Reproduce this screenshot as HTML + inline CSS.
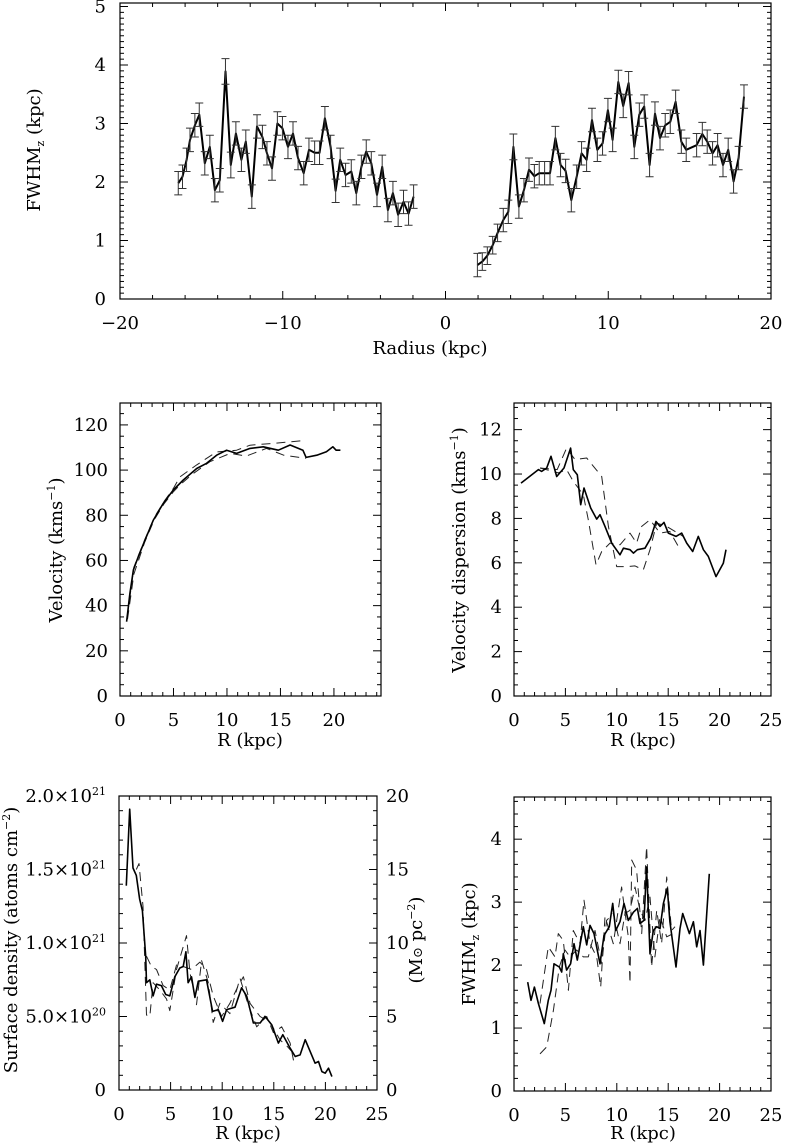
<!DOCTYPE html>
<html><head><meta charset="utf-8"><style>
html,body{margin:0;padding:0;background:#fff}
svg{display:block}
text{font-family:"DejaVu Serif","Liberation Serif",serif;fill:#000}
</style></head><body>
<svg id="fig" width="785" height="1148" viewBox="0 0 785 1148" xmlns="http://www.w3.org/2000/svg"></svg>
<script>
// ---- Top panel data (FWHM vs radius, with error bars)
const topR = [-16.42,-16.16,-15.91,-15.70,-15.40,-15.13,-14.79,-14.48,-14.17,-13.87,-13.52,-13.19,-12.88,-12.54,-12.27,-11.90,-11.58,-11.25,-10.97,-10.66,-10.33,-10.02,-9.68,-9.37,-9.06,-8.71,-8.39,-8.04,-7.74,-7.41,-7.06,-6.75,-6.47,-6.14,-5.79,-5.48,-5.17,-4.87,-4.56,-4.21,-3.89,-3.54,-3.23,-2.91,-2.58,-2.27,-1.96];
const topF = [1.98,2.09,2.38,2.72,2.97,3.15,2.32,2.60,1.86,2.03,3.89,2.29,2.83,2.38,2.69,1.75,2.95,2.77,2.49,2.23,3.00,2.92,2.60,2.83,2.41,2.15,2.55,2.50,2.50,3.09,2.60,1.85,2.38,2.12,2.18,1.81,2.26,2.52,2.32,1.78,2.26,1.52,1.81,1.44,1.66,1.46,1.75];
const topE = [0.2,0.2,0.2,0.2,0.2,0.2,0.2,0.2,0.2,0.2,0.22,0.22,0.2,0.2,0.2,0.2,0.2,0.2,0.2,0.2,0.2,0.2,0.2,0.2,0.2,0.2,0.2,0.2,0.2,0.2,0.2,0.2,0.2,0.2,0.2,0.2,0.2,0.2,0.2,0.2,0.2,0.2,0.2,0.2,0.2,0.2,0.2];
const topR2 = [1.96,2.26,2.57,2.90,3.20,3.55,3.86,4.17,4.51,4.82,5.13,5.46,5.76,6.09,6.42,6.75,7.07,7.38,7.73,8.06,8.36,8.67,9.00,9.33,9.65,9.98,10.27,10.62,10.92,11.25,11.60,11.91,12.21,12.54,12.87,13.18,13.50,13.81,14.14,14.49,14.79,15.43,15.78,16.08,16.41,16.72,17.05,17.37,17.70,18.01,18.34];
const topF2 = [0.58,0.64,0.74,0.92,1.13,1.35,1.49,2.60,1.58,1.86,2.21,2.10,2.15,2.15,2.15,2.75,2.29,2.19,1.69,2.09,2.49,2.38,3.06,2.55,2.66,3.23,2.72,3.71,3.30,3.69,2.60,3.15,3.29,2.29,3.17,2.75,2.97,3.03,3.37,2.69,2.55,2.63,2.82,2.69,2.49,2.63,2.29,2.55,2.01,2.41,3.46];
const topE2 = [0.2,0.15,0.15,0.15,0.15,0.2,0.2,0.22,0.2,0.2,0.2,0.2,0.2,0.2,0.2,0.2,0.2,0.2,0.2,0.2,0.2,0.2,0.2,0.2,0.2,0.2,0.2,0.2,0.2,0.2,0.2,0.2,0.2,0.2,0.2,0.2,0.2,0.2,0.2,0.2,0.2,0.2,0.2,0.2,0.2,0.2,0.2,0.2,0.2,0.2,0.2];
// ---- Velocity
const velR = [0.62,0.93,1.25,1.71,2.34,3.12,4.05,4.98,5.92,7.17,8.1,9.03,9.97,10.9,12.15,13.4,14.8,15.9,17.1,17.4,18.4,19.3,19.9,20.2,20.6];
const velV = [32.9,45.4,55.8,61.7,69,77.9,85.3,91.2,95.6,100.7,103,106.6,108.8,107.4,109.6,110.3,108.8,111.1,108.8,105.6,106.6,108.1,110.3,108.8,108.8];
const velRA = [0.7,1.3,2.3,3.2,4.1,5.0,5.6,7.17,9.0,10.9,12.15,14.3,17.1];
const velVA = [36,57,69,79,86,92,97,102.3,108,108.8,111,111.8,113];
const velRB = [0.7,1.3,2.3,3.2,4.1,5.0,5.6,6.85,8.4,10.3,11.8,13.7,15.3,17.4];
const velVB = [34,54,68,78,85,90.5,93.4,98.5,103.7,107.4,106.2,109.6,106.6,105.2];
// ---- Velocity dispersion
const sigR = [0.68,2.37,2.69,3.18,3.6,4.15,4.86,5.51,5.77,6.16,6.49,6.81,7.46,8.04,8.37,8.85,9.5,10.31,10.64,11.28,11.61,12,12.74,13.3,13.81,14.2,14.59,15.01,15.76,16.31,16.8,17.38,17.93,18.42,18.9,19.65,20.36,20.62];
const sigV = [9.59,10.2,10.12,10.27,10.8,9.89,10.27,11.17,10.2,9.97,8.62,9.37,8.47,7.97,8.17,7.64,6.89,6.36,6.66,6.59,6.44,6.59,6.66,7.11,7.86,7.64,7.82,7.34,7.19,7.34,6.89,6.51,7.19,6.59,6.29,5.38,5.98,6.59];
const sigRA = [2.53,4.2,5.12,5.93,7.07,8.53,9.18,9.99,10.96,11.77,12.58,13.23,13.88,14.85,16.47];
const sigVA = [10.27,10.2,11.17,10.65,10.72,9.89,7.64,5.83,5.83,5.86,5.68,6.59,7.79,7.64,7.19];
const sigRB = [2.53,4.31,5.12,5.77,6.74,7.23,7.98,8.53,9.34,10.31,11.28,11.93,12.42,13.23,14.2,15.17,15.98];
const sigVB = [10.27,10.05,10.2,9.67,9.07,7.94,5.91,6.51,6.89,6.81,7.34,6.89,7.64,7.94,7.34,7.41,6.74];
// ---- Surface density (units of 1e20)
const sdR = [0.71,1.04,1.36,1.68,2.0,2.27,2.59,2.66,2.98,3.3,3.63,4.11,4.53,4.92,5.41,5.89,6.22,6.48,6.7,7.03,7.35,7.68,8.48,9.07,9.62,10.04,10.43,11.24,11.88,12.37,13.02,13.67,14.15,14.8,15.45,15.87,16.58,17.07,17.55,18.04,19.0,19.33,19.66,19.98,20.3,20.63];
const sdV = [13.9,19.1,15.1,14.6,13.0,12.2,9.1,7.3,7.5,6.4,7.2,7.1,6.5,6.4,7.7,8.3,8.4,9.4,7.3,7.7,6.3,7.4,7.5,5.35,5.47,4.67,5.47,5.63,6.95,6.38,4.56,4.56,5.01,4.44,3.19,3.76,2.85,2.28,2.39,3.42,1.82,1.94,1.25,1.14,1.48,0.91];
const sdRA = [1.68,1.94,2.33,2.66,2.98,3.3,3.95,4.6,4.92,5.57,6.54,6.87,7.51,8.0,8.65,9.13,9.78,10.75,11.72,12.52,13.34,14.31,14.96,15.77,16.58,16.97];
const sdVA = [15.0,15.4,12.5,5.1,5.0,7.3,6.8,6.2,5.4,8.2,10.5,8.0,5.8,8.8,7.3,4.6,5.9,5.2,7.6,5.8,4.3,5.0,3.9,4.3,3.2,1.8];
const sdRB = [2.66,3.14,3.63,4.27,4.92,5.57,6.22,7.03,7.84,8.48,9.13,9.94,10.75,11.56,12.05,12.69,13.67,14.64,15.61,16.26,16.9];
const sdVB = [9.1,8.4,8.2,7.1,6.8,8.5,8.4,8.2,8.7,8.2,6.4,5.0,5.9,7.1,7.7,5.9,5.0,4.6,3.4,3.0,2.5];
// ---- FWHM vs R
const fwR = [1.33,1.65,1.98,2.37,2.95,3.34,3.6,3.89,4.41,4.64,4.8,5.12,5.51,5.84,6.16,6.74,7.07,7.39,7.78,8.37,8.75,9.27,9.6,9.89,10.31,10.7,11.12,11.61,12.0,12.26,12.65,12.9,13.23,13.55,13.88,14.2,14.53,14.91,15.17,15.76,16.15,16.41,17.06,17.45,17.77,18.09,18.42,19.0];
const fwV = [1.73,1.44,1.65,1.39,1.07,1.44,1.6,2.02,1.97,1.89,2.18,1.92,2.02,2.34,2.08,2.61,2.32,2.63,2.5,2.02,2.47,2.61,2.98,2.55,2.69,2.98,2.71,2.84,2.9,2.66,2.71,3.56,2.18,2.55,2.61,2.58,2.98,3.22,2.69,1.97,2.58,2.82,2.5,2.69,2.29,2.55,2.0,3.45];
const fwRA = [2.53,3.18,3.83,4.41,4.96,5.45,6.1,6.74,7.23,7.88,8.53,9.01,9.66,10.31,10.8,11.28,11.77,12.26,12.74,13.23,13.71,14.2,14.85,15.5];
const fwVA = [0.59,0.7,1.28,1.97,2.24,2.13,2.24,2.13,2.13,2.55,2.02,2.71,2.82,2.34,2.82,2.87,3.24,2.87,2.71,3.08,2.13,2.77,2.45,2.5];
const fwRB = [2.53,3.34,3.99,4.31,4.8,5.29,5.77,6.42,6.81,7.39,8.04,8.43,8.85,9.66,10.47,11.12,11.28,11.45,11.93,12.42,12.9,13.39,13.88,14.36,14.85,15.33,15.66];
const fwVB = [1.39,2.29,2.13,2.5,2.39,1.6,2.55,2.34,3.03,2.34,2.13,1.65,2.77,2.34,3.24,2.45,1.71,3.67,3.51,2.5,3.88,1.97,2.87,2.34,3.4,2.55,2.61];

const NS='http://www.w3.org/2000/svg';
const svg=document.getElementById('fig');
function mk(tag,attrs,parent){const e=document.createElementNS(NS,tag);for(const k in attrs)e.setAttribute(k,attrs[k]);(parent||svg).appendChild(e);return e;}

function panel(name,L,R,T,B,x0,x1,y0,y1){
  const g=mk('g',{});
  
  
  const sx=v=>L+(v-x0)/(x1-x0)*(R-L);
  const sy=v=>B-(v-y0)/(y1-y0)*(B-T);
  mk('rect',{x:L,y:T,width:R-L,height:B-T,fill:'none',stroke:'#000','stroke-width':1.2},g);
  return {g,sx,sy,L,R,T,B};
}
function xticks(p,from,to,major,minor,labels,fmt){
  for(let v=from;v<=to+1e-9;v+=minor){
    const isM=Math.abs(v/major-Math.round(v/major))<1e-6;const len=isM?8:4;const x=p.sx(v);
    mk('line',{x1:x,x2:x,y1:p.B,y2:p.B-len,stroke:'#000','stroke-width':1},p.g);
    mk('line',{x1:x,x2:x,y1:p.T,y2:p.T+len,stroke:'#000','stroke-width':1},p.g);
  }
  labels.forEach(v=>{const t=mk('text',{x:p.sx(v),y:p.B+30,'text-anchor':'middle','font-size':18},p.g);t.textContent=fmt?fmt(v):String(v);
    
    });
}
function yticks(p,from,to,major,minor){
  for(let v=from;v<=to+1e-9;v+=minor){
    const isM=Math.abs(v/major-Math.round(v/major))<1e-6;const len=isM?8:4;const y=p.sy(v);
    mk('line',{x1:p.L,x2:p.L+len,y1:y,y2:y,stroke:'#000','stroke-width':1},p.g);
    mk('line',{x1:p.R,x2:p.R-len,y1:y,y2:y,stroke:'#000','stroke-width':1},p.g);
  }
}
function ylabels(p,vals,fmt,xpos,anchor,sy){
  vals.forEach(v=>{const t=mk('text',{x:xpos,y:(sy||p.sy)(v)+6,'text-anchor':anchor||'end','font-size':18},p.g);
    
    
    if(fmt)t.innerHTML=fmt(v);else t.textContent=String(v);});
}
function line(p,xs,ys,dash,name,w){
  const d=xs.map((x,i)=>(i?'L':'M')+p.sx(x).toFixed(1)+','+p.sy(ys[i]).toFixed(1)).join('');
  const e=mk('path',{d,fill:'none',stroke:dash?'#222':'#000','stroke-width':w||1.6,'stroke-linejoin':'round'},p.g);
  if(dash)e.setAttribute('stroke-dasharray',dash);
  
  
}
function errbars(p,xs,ys,es){
  xs.forEach((x,i)=>{const X=p.sx(x),a=p.sy(ys[i]-es[i]),b=p.sy(ys[i]+es[i]);
    const e=mk('path',{d:`M${X},${a}L${X},${b}M${X-4},${a}L${X+4},${a}M${X-4},${b}L${X+4},${b}`,stroke:'#333','stroke-width':1,fill:'none'},p.g);
    
    });
}
function label(x,y,txt,rot,name){
  const t=mk('text',{x,y,'text-anchor':'middle','font-size':18});
  if(rot)t.setAttribute('transform',`rotate(-90 ${x} ${y})`);
  t.innerHTML=txt;
  
  
}

// Top panel
const p1=panel('top-fwhm-panel',120,771,3,299,-20,20,0,5.06);
xticks(p1,-20,20,10,2,[-20,-10,0,10,20],v=>v<0?'\u2212'+(-v):String(v));
yticks(p1,0,5,1,0.1);
ylabels(p1,[0,1,2,3,4,5],null,106);
line(p1,topR,topF,null,'fwhm-line-negative',2);
line(p1,topR2,topF2,null,'fwhm-line-positive',2);
errbars(p1,topR,topF,topE);
errbars(p1,topR2,topF2,topE2);
label(40,150,'FWHM<tspan font-size="11" dy="4">z</tspan><tspan dy="-4"> (kpc)</tspan>',true,'top-y-axis-title');
label(430,354,'Radius (kpc)',false,'top-x-axis-title');

// Velocity
const p2=panel('velocity-panel',120,381,403,696,0,24.4,0,129.7);
xticks(p2,0,24,5,1,[0,5,10,15,20]);
yticks(p2,0,125,20,5);
ylabels(p2,[0,20,40,60,80,100,120],null,108);
line(p2,velRA,velVA,'9,6','velocity-dashed-a',1);
line(p2,velRB,velVB,'9,6','velocity-dashed-b',1);
line(p2,velR,velV,null,'velocity-solid',1.6);
label(62,550,'Velocity (kms<tspan font-size="11" dy="-7">\u22121</tspan><tspan dy="7">)</tspan>',true,'velocity-y-axis-title');
label(250,746,'R (kpc)',false,'velocity-x-axis-title');

// Velocity dispersion
const p3=panel('dispersion-panel',514,771,403,696,0,25,0,13.2);
xticks(p3,0,25,5,1,[0,5,10,15,20,25]);
yticks(p3,0,13,2,0.5);
ylabels(p3,[0,2,4,6,8,10,12],null,502);
line(p3,sigRA,sigVA,'9,6','dispersion-dashed-a',1);
line(p3,sigRB,sigVB,'9,6','dispersion-dashed-b',1);
line(p3,sigR,sigV,null,'dispersion-solid',1.6);
label(465,550,'Velocity dispersion (kms<tspan font-size="11" dy="-7">\u22121</tspan><tspan dy="7">)</tspan>',true,'dispersion-y-axis-title');
label(643,746,'R (kpc)',false,'dispersion-x-axis-title');

// Surface density
const p4=panel('surface-density-panel',119,377,796,1090,0,25,0,20);
xticks(p4,0,25,5,1,[0,5,10,15,20,25]);
yticks(p4,0,20,5,1);
ylabels(p4,[0,5,10,15,20],v=>v===0?'0':(v===5?'5.0\u00d710<tspan font-size="11" dy="-7">20</tspan>':(v/10).toFixed(1)+'\u00d710<tspan font-size="11" dy="-7">21</tspan>'),106);
ylabels(p4,[0,5,10,15,20],null,386,'start');
line(p4,sdRA,sdVA,'9,6','surface-dashed-a',1);
line(p4,sdRB,sdVB,'9,6','surface-dashed-b',1);
line(p4,sdR,sdV,null,'surface-solid',1.6);
label(17,940,'Surface density (atoms cm<tspan font-size="11" dy="-7">\u22122</tspan><tspan dy="7">)</tspan>',true,'surface-y-axis-title');
label(422,940,'(M<tspan font-size="13">\u2299</tspan> pc<tspan font-size="11" dy="-7">\u22122</tspan><tspan dy="7">)</tspan>',true,'surface-right-axis-title');
label(248,1139,'R (kpc)',false,'surface-x-axis-title');

// FWHM vs R
const p5=panel('fwhm-r-panel',514,771,797,1091,0,25,0,4.67);
xticks(p5,0,25,5,1,[0,5,10,15,20,25]);
yticks(p5,0,4.6,1,0.2);
ylabels(p5,[0,1,2,3,4],null,502);
line(p5,fwRA,fwVA,'9,6','fwhm-r-dashed-a',1);
line(p5,fwRB,fwVB,'9,6','fwhm-r-dashed-b',1);
line(p5,fwR,fwV,null,'fwhm-r-solid',1.6);
label(475,944,'FWHM<tspan font-size="11" dy="4">z</tspan><tspan dy="-4"> (kpc)</tspan>',true,'fwhm-r-y-axis-title');
label(643,1139,'R (kpc)',false,'fwhm-r-x-axis-title');
</script>
</body></html>
